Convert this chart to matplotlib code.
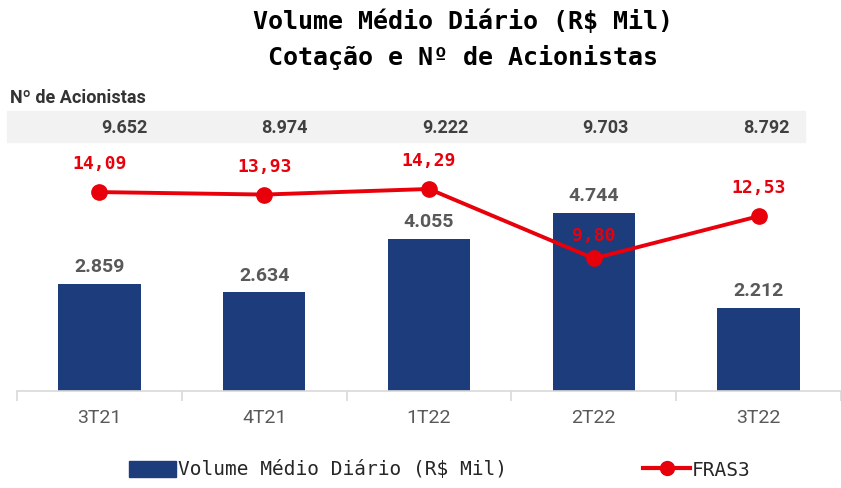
import matplotlib
matplotlib.use('Agg')
import matplotlib.pyplot as plt
from matplotlib.patches import Rectangle, Patch
from matplotlib.lines import Line2D

quarters = ['3T21', '4T21', '1T22', '2T22', '3T22']
volume = [2859, 2634, 4055, 4744, 2212]
volume_labels = ['2.859', '2.634', '4.055', '4.744', '2.212']
price = [14.09, 13.93, 14.29, 9.80, 12.53]
price_labels = ['14,09', '13,93', '14,29', '9,80', '12,53']
holders = ['9.652', '8.974', '9.222', '9.703', '8.792']

navy = '#1d3c7c'
red = '#e8000b'
gray = '#595959'

W, H = 841, 488
fig = plt.figure(figsize=(W / 100, H / 100), dpi=100)

# axes box in pixel terms
left, right, base, top = 17, 841, 391, 150
step = 167
ax = fig.add_axes([left / W, 1 - base / H, (right - left) / W, (base - top) / H])
x = list(range(len(quarters)))
ax.bar(x, volume, width=0.5, color=navy, zorder=2)
ax.set_ylim(0, (base - top) / 0.0375)
ax.set_yticks([])
for s in ['top', 'left', 'right']:
    ax.spines[s].set_visible(False)
ax.spines['bottom'].set_color('#d9d9d9')
ax.spines['bottom'].set_linewidth(1.2)

for xi, v, lab in zip(x, volume, volume_labels):
    ax.annotate(lab, (xi, v), xytext=(0, 12), textcoords='offset points',
                ha='center', va='center', fontfamily='Roboto', fontweight='bold',
                fontsize=14, color=gray)

ax2 = ax.twinx()
ax2.set_ylim(1.23, 16.81)
ax2.axis('off')
ax2.plot(x, price, color=red, lw=2.8, marker='o', markersize=11, zorder=3)
for xi, v, lab in zip(x, price, price_labels):
    off = 16 if v < 11 else 20
    ax2.annotate(lab, (xi, v), xytext=(0, off), textcoords='offset points',
                 ha='center', va='center', fontfamily='DejaVu Sans Mono',
                 fontweight='bold', fontsize=13, color=red)

# x axis set after twin plotting so autoscale doesn't override it
ax.set_xlim(-0.5, -0.5 + (right - left) / step)
ax.set_xticks(x)
ax.set_xticklabels(quarters, fontfamily='Roboto', fontsize=14, color=gray)
ax.tick_params(axis='x', which='major', length=0, pad=13)
ax.set_xticks([i - 0.5 for i in range(len(quarters) + 1)], minor=True)
ax.tick_params(axis='x', which='minor', length=7, color='#d9d9d9', width=1.2)

# shareholders band (its own table row above the chart)
fig.patches.append(Rectangle((7 / W, 1 - 142 / H), 798 / W, 31 / H,
                             transform=fig.transFigure, color='#f2f2f2', zorder=-1))
for i, lab in enumerate(holders):
    fig.text((124 + 160.5 * i) / W, 1 - 128 / H, lab, ha='center', va='center',
             fontfamily='Roboto', fontweight='bold', fontsize=13, color='#404040')
fig.text(10 / W, 1 - 98 / H, 'Nº de Acionistas', ha='left', va='center',
         fontfamily='Roboto', fontweight='bold', fontsize=13, color='#333333')

fig.text(463 / W, 1 - 22 / H, 'Volume Médio Diário (R$ Mil)', ha='center', va='center',
         fontfamily='DejaVu Sans Mono', fontweight='bold', fontsize=18, color='black')
fig.text(463 / W, 1 - 58 / H, 'Cotação e Nº de Acionistas', ha='center', va='center',
         fontfamily='DejaVu Sans Mono', fontweight='bold', fontsize=18, color='black')

handles = [Patch(color=navy),
           Line2D([0], [0], color=red, lw=3, marker='o', markersize=10)]
fig.legend(handles, ['Volume Médio Diário (R$ Mil)', 'FRAS3'], ncol=2,
           loc='center', bbox_to_anchor=(440 / W, 1 - 470 / H), frameon=False,
           prop={'family': 'DejaVu Sans Mono', 'size': 14}, labelcolor='#262626',
           handlelength=2.4, handleheight=0.85, handletextpad=0.1, columnspacing=7.0)

fig.savefig('out.png', dpi=100)
